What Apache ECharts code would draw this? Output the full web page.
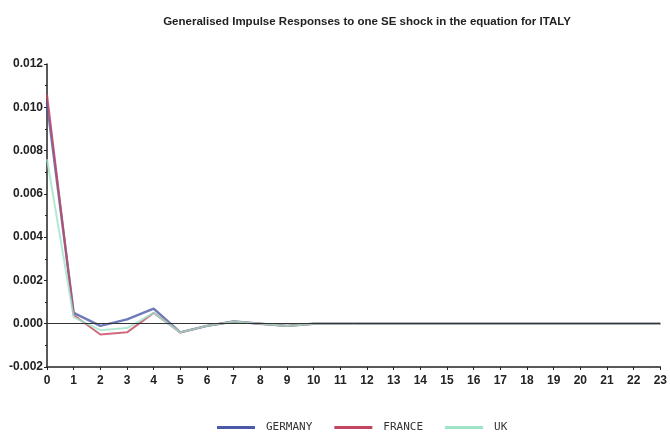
<!DOCTYPE html>
<html>
<head>
<meta charset="utf-8">
<script src="https://cdn.jsdelivr.net/npm/echarts@6/dist/echarts.min.js"></script>
<style>
  html, body { margin: 0; padding: 0; background: #fff; }
  #chart { width: 670px; height: 440px; }
</style>
</head>
<body>
<div id="chart"></div>
<script>
const horizons = Array.from({ length: 24 }, (_, i) => String(i))

const germany = [0.0102, 0.0005, -0.0001, 0.0002, 0.0007, -0.0004, -0.0001, 0.0001, 0.0, -0.0001, 0.0,
  0.0, 0.0, 0.0, 0.0, 0.0, 0.0, 0.0, 0.0, 0.0, 0.0, 0.0, 0.0, 0.0]
const france = [0.0106, 0.0004, -0.0005, -0.0004, 0.0005, -0.0004, -0.0001, 0.0001, 0.0, -0.0001, 0.0,
  0.0, 0.0, 0.0, 0.0, 0.0, 0.0, 0.0, 0.0, 0.0, 0.0, 0.0, 0.0, 0.0]
const uk = [0.0076, 0.0003, -0.0003, -0.0002, 0.0005, -0.0004, -0.0001, 0.0001, 0.0, -0.0001, 0.0,
  0.0, 0.0, 0.0, 0.0, 0.0, 0.0, 0.0, 0.0, 0.0, 0.0, 0.0, 0.0, 0.0]

const font = '"Liberation Sans Narrow", "Liberation Sans", Arial, sans-serif'

const chart = echarts.init(document.getElementById('chart'))

function lineSeries(name, data, color, width) {
  return {
    name,
    type: 'line',
    data,
    symbol: 'none',
    lineStyle: { color, width, opacity: 0.8 },
    itemStyle: { color },
    animation: false
  }
}

chart.setOption({
  backgroundColor: '#fff',
  title: {
    text: 'Generalised Impulse Responses to one SE shock in the equation for ITALY',
    left: 362,
    textAlign: 'center',
    top: 11,
    textStyle: { fontFamily: font, fontSize: 11.5, fontWeight: 'bold', color: '#222' }
  },
  legend: {
    bottom: 2,
    left: 212,
    itemWidth: 38,
    itemHeight: 3,
    itemGap: 22,
    icon: 'rect',
    textStyle: { fontFamily: '"DejaVu Sans Mono", monospace', fontSize: 11, color: '#333', padding: [0, 0, 0, 6] },
    data: ['GERMANY', 'FRANCE', 'UK']
  },
  grid: { left: 47, right: 8, top: 64, bottom: 73 },
  xAxis: {
    type: 'category',
    data: horizons,
    boundaryGap: false,
    axisLine: { onZero: false, lineStyle: { color: '#222', width: 1.5 } },
    axisTick: { show: true, alignWithLabel: true, length: 3, lineStyle: { color: '#222' } },
    axisLabel: { fontFamily: font, fontSize: 12, fontWeight: 'bold', color: '#222', margin: 8 },
    splitLine: { show: false }
  },
  yAxis: {
    type: 'value',
    min: -0.002,
    max: 0.012,
    interval: 0.002,
    axisLine: { show: true, lineStyle: { color: '#222', width: 1.5 } },
    axisTick: { show: true, length: 3, lineStyle: { color: '#222' } },
    minorTick: { show: true, splitNumber: 2, length: 2, lineStyle: { color: '#222' } },
    axisLabel: {
      fontFamily: font, fontSize: 12, fontWeight: 'bold', color: '#222', margin: 4,
      formatter: v => v.toFixed(3)
    },
    splitLine: { show: false }
  },
  series: [
    lineSeries('GERMANY', germany, '#4b5aa8', 2.5),
    lineSeries('FRANCE', france, '#c4455e', 2),
    Object.assign(lineSeries('UK', uk, '#9fe3c9', 2), {
      markLine: {
        silent: true,
        symbol: 'none',
        label: { show: false },
        lineStyle: { color: '#333', width: 1, type: 'solid' },
        data: [{ yAxis: 0 }]
      }
    })
  ]
})
</script>
</body>
</html>
